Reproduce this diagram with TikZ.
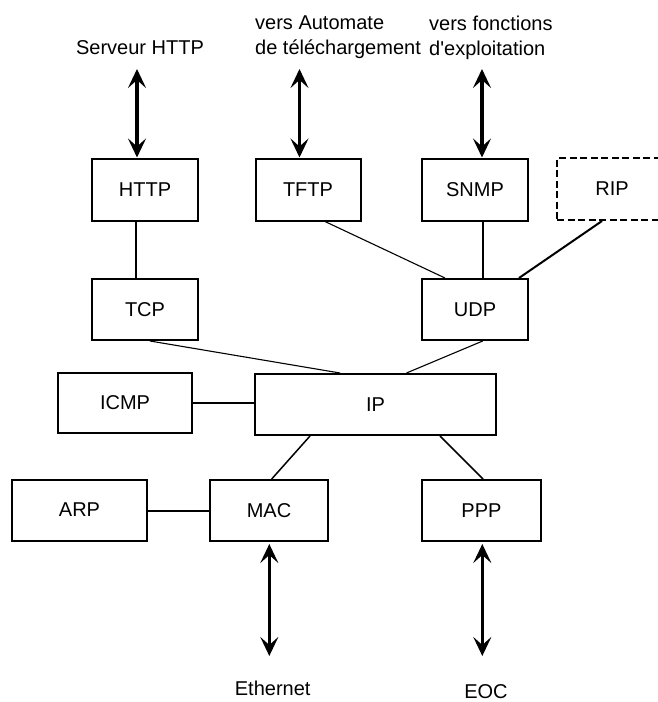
\documentclass[tikz,border=0pt]{standalone}
\usepackage{fontspec}
\setmainfont{Liberation Sans}
\usetikzlibrary{arrows.meta}
\begin{document}
\begin{tikzpicture}[x=1pt,y=-1pt,
  font=\fontsize{20}{25}\selectfont,
  box/.style={draw, line width=2pt, inner sep=0pt, minimum width=#1, minimum height=61pt},
  thinlink/.style={line width=1.1pt},
  thicklink/.style={line width=2pt},
  biarrow/.style={line width=3.2pt, {Stealth[length=19pt,width=18pt,inset=8pt]}-{Stealth[length=19pt,width=18pt,inset=8pt]}},
  lbl/.style={inner sep=0pt}]
\useasboundingbox (0,0) rectangle (658,702);
\clip (0,0) rectangle (658,702);

% boxes
\node[box=106pt, minimum height=62pt] (HTTP) at (145,189.5) {HTTP};
\node[box=105pt, minimum height=62pt] (TFTP) at (308,189.5) {TFTP};
\node[box=106pt, minimum height=62pt] (SNMP) at (475,189.5) {SNMP};
\node[box=110pt, minimum height=62pt, dashed, dash pattern=on 7pt off 3.5pt] (RIP) at (612,189) {RIP};
\node[box=106pt] (TCP) at (145,309.5) {TCP};
\node[box=106pt] (UDP) at (475,309.5) {UDP};
\node[box=134pt, minimum height=60pt] (ICMP) at (125,403) {ICMP};
\node[box=241pt] (IP) at (375.5,404.5) {IP};
\node[box=135pt] (ARP) at (79.5,510) {ARP};
\node[box=118pt] (MAC) at (269,510.5) {MAC};
\node[box=119pt] (PPP) at (481.5,510.5) {PPP};

% external labels
\node[lbl] (lserv) at (140,48) {Serveur HTTP};
\node[lbl, align=left, anchor=west] (lauto) at (255,37.5) {vers Automate\\de téléchargement};
\node[lbl, align=left, anchor=west] (lexpl) at (429,37.5) {vers fonctions\\d\textquotesingle exploitation};
\node[lbl] (leth) at (272.7,688) {Ethernet};
\node[lbl] (leoc) at (486,691.5) {EOC};

% free ends of arrows
\coordinate (aHTTP) at (137,69);
\coordinate (aTFTP) at (299.5,69);
\coordinate (aSNMP) at (482,69);
\coordinate (aMAC) at (269.3,656);
\coordinate (aPPP) at (482.3,656);

% arrows
\draw[biarrow] (aHTTP) -- (aHTTP |- HTTP.north);
\draw[biarrow] (aTFTP) -- (aTFTP |- TFTP.north);
\draw[biarrow] (aSNMP) -- (aSNMP |- SNMP.north);
\draw[biarrow] (aMAC |- MAC.south) ++(0,2) -- (aMAC);
\draw[biarrow] (aPPP |- PPP.south) ++(0,2) -- (aPPP);

% connectors
\draw[thicklink] ([xshift=-9pt]HTTP.south) -- ([xshift=-9pt]TCP.north);
\draw[thinlink] ([xshift=17pt]TFTP.south) -- ([xshift=-30pt]UDP.north);
\draw[thicklink] ([xshift=7.7pt]SNMP.south) -- ([xshift=7.7pt]UDP.north);
\draw[thicklink] ([xshift=-10pt]RIP.south) -- ([xshift=-10pt]UDP.north east);
\draw[thinlink] ([xshift=5pt]TCP.south) -- ([xshift=-35.5pt]IP.north);
\draw[thinlink] ([xshift=7.7pt]UDP.south) -- ([xshift=31pt]IP.north);
\draw[thicklink] (ICMP.east) -- (ICMP.east -| IP.west);
\draw[line width=1.5pt] ([xshift=-65.5pt]IP.south) -- ([xshift=2.7pt]MAC.north);
\draw[line width=1.5pt] ([xshift=64.5pt]IP.south) -- ([xshift=1.5pt]PPP.north);
\draw[thicklink] (ARP.east |- MAC.west) -- (MAC.west);
\end{tikzpicture}
\end{document}
